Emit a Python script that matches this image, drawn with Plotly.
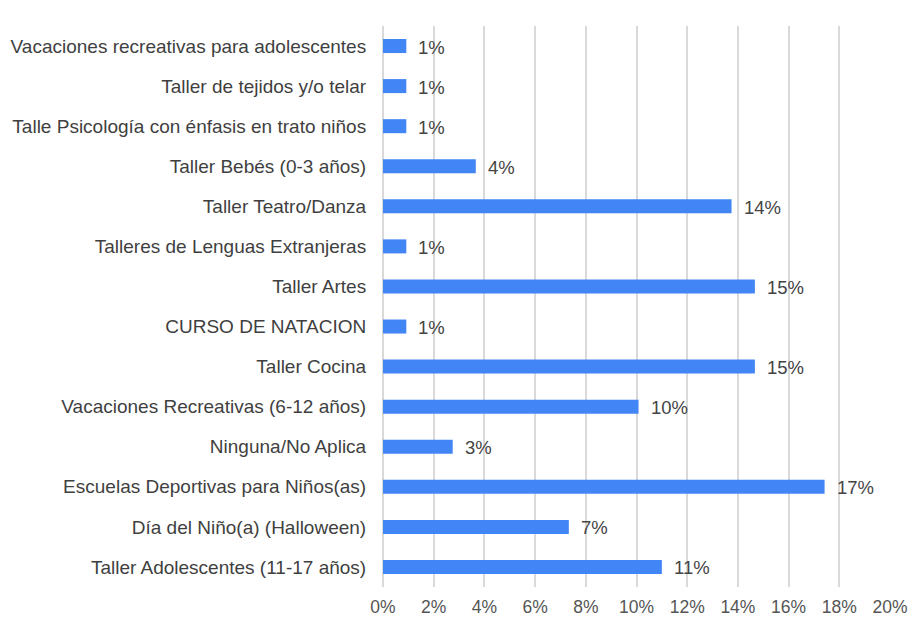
import plotly.graph_objects as go

categories = [
    "Vacaciones recreativas para adolescentes",
    "Taller de tejidos y/o telar",
    "Talle Psicología con énfasis en trato niños",
    "Taller Bebés (0-3 años)",
    "Taller Teatro/Danza",
    "Talleres de Lenguas Extranjeras",
    "Taller Artes",
    "CURSO DE NATACION",
    "Taller Cocina",
    "Vacaciones Recreativas (6-12 años)",
    "Ninguna/No Aplica",
    "Escuelas Deportivas para Niños(as)",
    "Día del Niño(a) (Halloween)",
    "Taller Adolescentes (11-17 años)",
]
values = [0.92, 0.92, 0.92, 3.66, 13.75, 0.92, 14.67, 0.92, 14.67, 10.08, 2.75, 17.42, 7.33, 11.0]
tick_vals = [0, 2, 4, 6, 8, 10, 12, 14, 16, 18, 20]

FONT = "Liberation Sans, Arial, sans-serif"

fig = go.Figure()
fig.add_trace(go.Bar(
    x=values, y=categories, orientation="h",
    marker=dict(color="#4285F4", line=dict(width=0)),
    hoverinfo="skip",
))

for c, v in zip(categories, values):
    fig.add_annotation(
        x=v, y=c, text=f"{round(v)}%", showarrow=False,
        xanchor="left", xshift=10, yshift=-1,
        font=dict(family=FONT, size=18.5, color="#444444"),
    )

fig.update_layout(
    width=917, height=620,
    margin=dict(l=383, r=27, t=26, b=33, autoexpand=False),
    paper_bgcolor="white", plot_bgcolor="white",
    bargap=0.65,
    showlegend=False,
    font=dict(family=FONT, size=16, color="#444444"),
)
fig.update_xaxes(
    range=[0, 20], tickvals=tick_vals, ticktext=[f"{t}%" for t in tick_vals],
    automargin=False,
    showgrid=True, gridcolor="#d9d9d9", gridwidth=1.8,
    zeroline=True, zerolinecolor="#d9d9d9", zerolinewidth=1.8,
    showline=False, ticks="outside", ticklen=4, tickcolor="rgba(0,0,0,0)",
    tickfont=dict(size=17.5, color="#555555"),
    fixedrange=True,
)
fig.update_yaxes(
    autorange="reversed", automargin=False, showgrid=False, showline=False,
    ticks="outside", ticklen=12, tickcolor="rgba(0,0,0,0)",
    tickfont=dict(size=19, color="#3f3f3f"),
    fixedrange=True,
)

fig.write_html("out.html", post_script="document.body.style.margin='0';",
               config={"displayModeBar": False})
